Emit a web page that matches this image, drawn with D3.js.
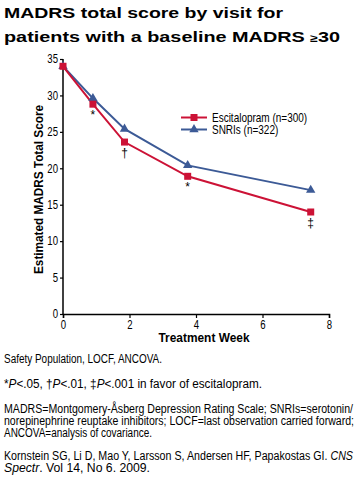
<!DOCTYPE html>
<html><head><meta charset="utf-8">
<script src="https://cdn.jsdelivr.net/npm/d3@7"></script>
<style>
body{margin:0;background:#fff;}
svg{display:block;}
text{font-family:"Liberation Sans",Arial,sans-serif;}
</style></head>
<body><svg id="c" width="358" height="480"></svg>
<script>
const weeks = [0, 0.9, 1.85, 3.75, 7.45];
const escitalopram = [34.0, 28.8, 23.6, 18.9, 14.0];
const snris = [34.0, 29.6, 25.4, 20.4, 17.0];
const sigMarks = ["", "*", "†", "*", "‡"];
const seriesNames = ["Escitalopram (n=300)", "SNRIs (n=322)"];
const xTicks = [0, 2, 4, 6, 8];
const yTicks = [0, 5, 10, 15, 20, 25, 30, 35];
const titleLines = [
  {y: 18, w: 279, parts: [["MADRS total score by visit for", 1]]},
  {y: 42, w: 336, parts: [["patients with a baseline MADRS ", 1], ["\u2265", 0.7], ["30", 1]]}
];
const footnotes = [
  {y: 363, w: 158, parts: [["Safety Population, LOCF, ANCOVA.", false]]},
  {y: 388, w: 258, parts: [["*", false], ["P", true], ["<.05, \u2020", false], ["P", true], ["<.01, \u2021", false], ["P", true], ["<.001 in favor of escitalopram.", false]]},
  {y: 413, w: 349, parts: [["MADRS=Montgomery-\u00c5sberg Depression Rating Scale; SNRIs=serotonin/", false]]},
  {y: 425, w: 350, parts: [["norepinephrine reuptake inhibitors; LOCF=last observation carried forward;", false]]},
  {y: 437, w: 148, parts: [["ANCOVA=analysis of covariance.", false]]},
  {y: 460, w: 349, parts: [["Kornstein SG, Li D, Mao Y, Larsson S, Andersen HF, Papakostas GI. ", false], ["CNS", true]]},
  {y: 472, w: 146, parts: [["Spectr", true], [". Vol 14, No 6. 2009.", false]]}
];
const RED = "#cc1236", BLUE = "#3c5a96";
const NARROW = 0.8;

const svg = d3.select("#c");
const x = d3.scaleLinear().domain([0, 8]).range([63, 329]);
const y = d3.scaleLinear().domain([0, 35]).range([314, 59]);

// title
titleLines.forEach(l => {
  const t = svg.append("text").attr("x", 4).attr("y", l.y)
    .attr("font-family", "'DejaVu Sans', sans-serif").attr("font-weight", "bold")
    .attr("font-size", 15.5).attr("fill", "#000")
    .attr("textLength", l.w).attr("lengthAdjust", "spacingAndGlyphs");
  l.parts.forEach(p => t.append("tspan").attr("font-size", 15.5 * p[1]).text(p[0]));
});

// axes
const gx = svg.append("g").attr("transform", "translate(0,314)")
  .call(d3.axisBottom(x).tickValues(xTicks).tickSize(4).tickPadding(2).tickFormat(d3.format("d")));
const gy = svg.append("g").attr("transform", "translate(63,0)")
  .call(d3.axisLeft(y).tickValues(yTicks).tickSize(3).tickPadding(2).tickFormat(d3.format("d")));
[gx, gy].forEach(g => {
  g.select(".domain").attr("stroke", "#000").attr("stroke-width", 1.5);
  g.selectAll(".tick line").attr("stroke", "#000").attr("stroke-width", 1.2);
  g.selectAll(".tick text").attr("font-family", "'Liberation Sans',Arial,sans-serif")
    .attr("font-size", 12).attr("fill", "#000").attr("transform", "scale(" + NARROW + ",1)");
});
gy.selectAll(".tick text").attr("x", -5 / NARROW);
gy.select(".domain").attr("d", "M0," + y(35) + "V" + y(0));

// axis labels
svg.append("text").attr("font-weight", "bold").attr("font-size", 13.5)
  .attr("text-anchor", "middle").attr("transform", "translate(43," + ((y(0) + y(35)) / 2 + 3) + ") rotate(-90)")
  .attr("textLength", 169).attr("lengthAdjust", "spacingAndGlyphs")
  .text("Estimated MADRS Total Score");
svg.append("text").attr("font-weight", "bold").attr("font-size", 13.5)
  .attr("text-anchor", "middle").attr("x", 204).attr("y", 342)
  .attr("textLength", 91).attr("lengthAdjust", "spacingAndGlyphs").text("Treatment Week");

const line = d3.line().x((d, i) => x(weeks[i])).y(d => y(d));
svg.append("path").datum(snris).attr("d", line).attr("fill", "none").attr("stroke", BLUE).attr("stroke-width", 2);
svg.append("path").datum(escitalopram).attr("d", line).attr("fill", "none").attr("stroke", RED).attr("stroke-width", 2);
const tri = d3.symbol().type(d3.symbolTriangle).size(38);
svg.selectAll("path.tri").data(snris).join("path").attr("class", "tri")
  .attr("transform", (d, i) => "translate(" + x(weeks[i]) + "," + y(d) + ")").attr("d", tri).attr("fill", BLUE);
svg.selectAll("rect.sq").data(escitalopram).join("rect").attr("class", "sq")
  .attr("x", (d, i) => x(weeks[i]) - 3.5).attr("y", d => y(d) - 3.5)
  .attr("width", 7).attr("height", 7).attr("fill", RED);

// significance marks
svg.selectAll("text.sig").data(escitalopram).join("text").attr("class", "sig")
  .attr("x", (d, i) => x(weeks[i])).attr("y", d => y(d) + 15)
  .attr("text-anchor", "middle").attr("font-size", 12).attr("fill", "#000")
  .text((d, i) => sigMarks[i]);

// legend
const legend = [{c: RED, m: "sq"}, {c: BLUE, m: "tri"}];
legend.forEach((l, i) => {
  const ly = 117.5 + i * 12;
  svg.append("line").attr("x1", 181).attr("x2", 207).attr("y1", ly).attr("y2", ly).attr("stroke", l.c).attr("stroke-width", 2);
  if (l.m === "sq") svg.append("rect").attr("x", 190.5).attr("y", ly - 3.5).attr("width", 7).attr("height", 7).attr("fill", l.c);
  else svg.append("path").attr("transform", "translate(194," + ly + ")").attr("d", tri).attr("fill", l.c);
  svg.append("text").attr("transform", "translate(212," + (ly + 4.5) + ") scale(" + NARROW + ",1)")
    .attr("font-size", 12.5).attr("fill", "#000").text(seriesNames[i]);
});

// footnotes
footnotes.forEach(f => {
  const t = svg.append("text").attr("x", 4).attr("y", f.y).attr("font-size", 12.5).attr("fill", "#000")
    .attr("textLength", f.w).attr("lengthAdjust", "spacingAndGlyphs");
  f.parts.forEach(p => t.append("tspan").attr("font-style", p[1] ? "italic" : "normal").text(p[0]));
});
</script></body></html>
